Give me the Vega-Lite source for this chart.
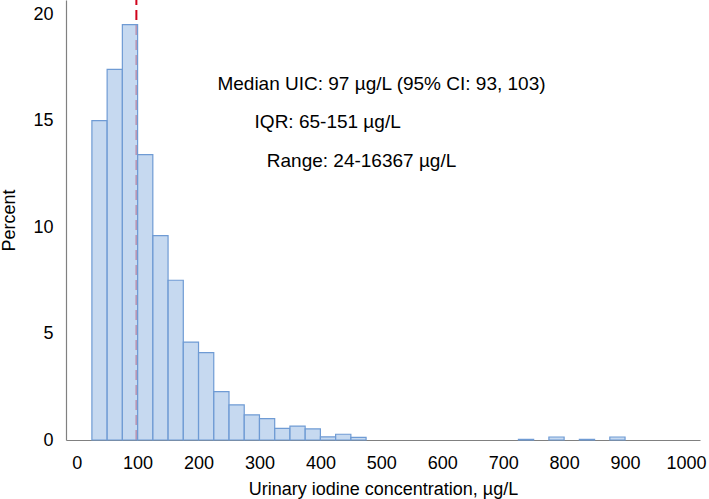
{
  "$schema": "https://vega.github.io/schema/vega-lite/v6.json",
  "width": 634,
  "height": 440,
  "autosize": "none",
  "padding": {"left": 66, "top": 0, "right": 9, "bottom": 59},
  "background": "white",
  "config": {
    "view": {"stroke": null},
    "font": "Liberation Sans",
    "axis": {"grid": false, "ticks": false, "domainColor": "#808080", "domainWidth": 1.2, "labelColor": "#000", "titleColor": "#000", "labelFontSize": 18, "titleFontSize": 18, "titleFontWeight": "normal", "labelFont": "Liberation Sans", "titleFont": "Liberation Sans"}
  },
  "datasets": {
    "bins": [
      {"start": 25, "end": 50, "pct": 15.0},
      {"start": 50, "end": 75, "pct": 17.4},
      {"start": 75, "end": 100, "pct": 19.5},
      {"start": 100, "end": 125, "pct": 13.4},
      {"start": 125, "end": 150, "pct": 9.6},
      {"start": 150, "end": 175, "pct": 7.5},
      {"start": 175, "end": 200, "pct": 4.6},
      {"start": 200, "end": 225, "pct": 4.1},
      {"start": 225, "end": 250, "pct": 2.27},
      {"start": 250, "end": 275, "pct": 1.65},
      {"start": 275, "end": 300, "pct": 1.18},
      {"start": 300, "end": 325, "pct": 1.0},
      {"start": 325, "end": 350, "pct": 0.55},
      {"start": 350, "end": 375, "pct": 0.65},
      {"start": 375, "end": 400, "pct": 0.52},
      {"start": 400, "end": 425, "pct": 0.15},
      {"start": 425, "end": 450, "pct": 0.27},
      {"start": 450, "end": 475, "pct": 0.12},
      {"start": 725, "end": 750, "pct": 0.03},
      {"start": 775, "end": 800, "pct": 0.14},
      {"start": 825, "end": 850, "pct": 0.03},
      {"start": 875, "end": 900, "pct": 0.14}
    ],
    "median": [{"value": 98}],
    "notes": [
      {"x": 231, "y": 16.72, "label": "Median UIC: 97 µg/L (95% CI: 93, 103)"},
      {"x": 292, "y": 14.93, "label": "IQR: 65-151 µg/L"},
      {"x": 312, "y": 13.1, "label": "Range: 24-16367 µg/L"}
    ]
  },
  "layer": [
    {
      "data": {"name": "median"},
      "mark": {"type": "rule", "color": "#d0021b", "strokeWidth": 2, "strokeDash": [10, 5]},
      "encoding": {
        "x": {"field": "value", "type": "quantitative", "scale": {"domain": [-17.5, 1023], "nice": false, "zero": false}},
        "y": {"datum": 0, "type": "quantitative"},
        "y2": {"datum": 20.66}
      }
    },
    {
      "data": {"name": "bins"},
      "mark": {"type": "rect", "fill": "#b3cceb", "fillOpacity": 0.75, "stroke": "#6f9bd4", "strokeWidth": 1.2},
      "encoding": {
        "x": {"field": "start", "type": "quantitative", "scale": {"domain": [-17.5, 1023], "nice": false, "zero": false},
          "axis": {"title": "Urinary iodine concentration, µg/L", "values": [0,100,200,300,400,500,600,700,800,900,1000], "format": "d", "labelPadding": 14, "titlePadding": 8}},
        "x2": {"field": "end"},
        "y": {"field": "pct", "type": "quantitative", "scale": {"domain": [0, 20.66], "nice": false},
          "axis": {"title": "Percent", "values": [0, 5, 10, 15, 20], "labelPadding": 13, "titlePadding": 14}},
        "y2": {"datum": 0}
      }
    },
    {
      "data": {"name": "notes"},
      "mark": {"type": "text", "align": "left", "baseline": "middle", "fontSize": 19, "font": "Liberation Sans", "color": "#000"},
      "encoding": {
        "x": {"field": "x", "type": "quantitative"},
        "y": {"field": "y", "type": "quantitative"},
        "text": {"field": "label"}
      }
    }
  ]
}
